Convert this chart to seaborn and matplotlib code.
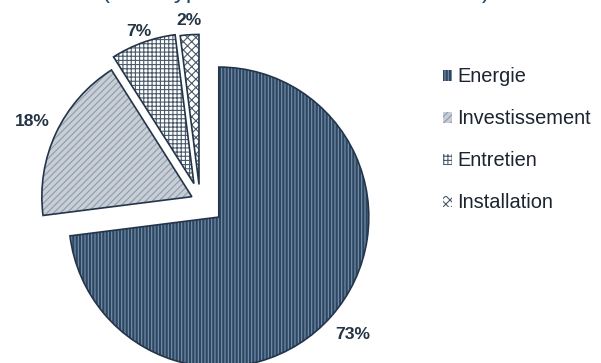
import matplotlib
matplotlib.use("Agg")
import numpy as np
import pandas as pd
import matplotlib.pyplot as plt
import seaborn as sns

# ---- data ----
categories = ["Energie", "Investissement", "Entretien", "Installation"]
shares = [73, 18, 7, 2]
pct_labels = ["73%", "18%", "7%", "2%"]
title_text = "(Coût type sur la durée de vie totale)"

# ---- style ----
sns.set_theme(style="white")
plt.rcParams['font.family'] = ['Liberation Sans', 'DejaVu Sans']
plt.rcParams['hatch.linewidth'] = 0.8

W, H = 601, 363
face_cols = ['#2d4662', '#c7ced6', '#ffffff', '#ffffff']
hatch_cols = ['#7892ac', '#8f9baa', '#4a5a6b', '#4a5a6b']
hatches = ['|||||', '/////', '++++', 'xxxx']
explode_frac = [0.167, 0.06, 0.12, 0.107]
label_dist = [1.187, 1.173, 1.077, 1.093]
radius = 150
center = (200, H - 200.5)
edge_col = '#24354a'
label_col = '#243346'
explode = [e * radius for e in explode_frac]

df = pd.DataFrame({"category": categories, "share": shares})

fig = plt.figure(figsize=(W / 100, H / 100), dpi=100)
ax = fig.add_axes([0, 0, 1, 1])

# layer 1: fill + hatch
wedges, _ = ax.pie(df["share"], explode=explode, startangle=90, counterclock=False,
                   radius=radius, center=center, colors=face_cols,
                   wedgeprops=dict(linewidth=0))
for w, h, hc in zip(wedges, hatches, hatch_cols):
    w.set_hatch(h)
    w.set_edgecolor(hc)
    w.set_linewidth(0)

# layer 2: outlines
outl, _ = ax.pie(df["share"], explode=explode, startangle=90, counterclock=False,
                 radius=radius, center=center,
                 wedgeprops=dict(facecolor='none', edgecolor=edge_col, linewidth=1.2))

# percentage labels
for w, lab, d in zip(wedges, pct_labels, label_dist):
    ang = np.deg2rad((w.theta1 + w.theta2) / 2)
    cx, cy = w.center
    ax.text(cx + d * w.r * np.cos(ang), cy + d * w.r * np.sin(ang), lab,
            ha='center', va='center', fontsize=12.6, fontweight='bold', color=label_col)

ax.set_xlim(0, W)
ax.set_ylim(0, H)
ax.set_axis_off()

# title, cropped at the top edge as in the reference
ax.text(295.5, H + 2, title_text, ha='center', va='baseline', fontsize=17.3,
        color='#1f4a6e', clip_on=False)

leg = ax.legend(wedges, categories, loc='upper left',
                bbox_to_anchor=(443 / W, 1 - 67.5 / H), bbox_transform=fig.transFigure,
                frameon=False, fontsize=14.4, handlelength=0.45, handleheight=0.45,
                handletextpad=0.25, labelspacing=1.15, borderpad=0, borderaxespad=0)
for t in leg.get_texts():
    t.set_color('#1c2430')

fig.savefig("out.png", dpi=100)
